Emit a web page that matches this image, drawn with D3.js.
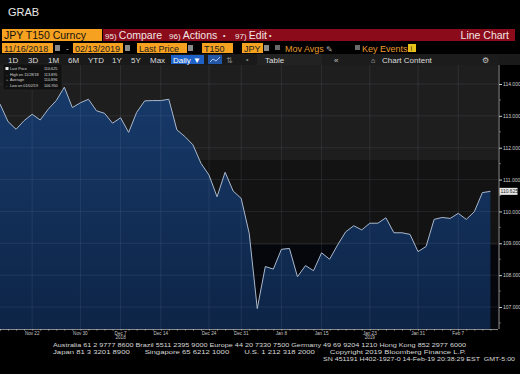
<!DOCTYPE html>
<html><head><meta charset="utf-8">
<script src="https://cdn.jsdelivr.net/npm/d3@7/dist/d3.min.js"></script>
<style>
html,body{margin:0;padding:0;background:#000;}
svg{display:block;}
text{font-family:"Liberation Sans","DejaVu Sans",sans-serif;}
</style></head>
<body>
<svg id="c" width="520" height="374"></svg>
<script>
// ---- data ----
const dates = ["2018-11-16","2018-11-19","2018-11-20","2018-11-21","2018-11-22","2018-11-23","2018-11-26","2018-11-27","2018-11-28","2018-11-29","2018-11-30",
"2018-12-03","2018-12-04","2018-12-05","2018-12-06","2018-12-07","2018-12-10","2018-12-11","2018-12-12","2018-12-13","2018-12-14",
"2018-12-17","2018-12-18","2018-12-19","2018-12-20","2018-12-21","2018-12-24","2018-12-26","2018-12-27","2018-12-28","2018-12-31",
"2019-01-02","2019-01-03","2019-01-04","2019-01-07","2019-01-08","2019-01-09","2019-01-10","2019-01-11","2019-01-14","2019-01-15",
"2019-01-16","2019-01-17","2019-01-18","2019-01-21","2019-01-22","2019-01-23","2019-01-24","2019-01-25","2019-01-28","2019-01-29",
"2019-01-30","2019-01-31","2019-02-01","2019-02-04","2019-02-05","2019-02-06","2019-02-07","2019-02-08","2019-02-11","2019-02-12","2019-02-13"];
const prices = [113.37,112.82,112.58,112.85,113.05,112.87,113.21,113.48,113.90,113.26,
113.41,113.52,113.16,113.08,112.77,112.94,112.48,113.11,113.47,113.48,
113.48,113.52,112.56,112.35,112.09,111.51,111.14,110.46,111.23,110.64,
110.41,109.31,106.95,108.27,108.19,108.81,108.84,107.95,108.30,108.14,
108.70,108.50,108.95,109.36,109.55,109.42,109.63,109.63,109.80,109.33,
109.33,109.28,108.74,108.90,109.75,109.81,109.78,109.94,109.75,109.99,
110.59,110.63];
const yTicks = [107,108,109,110,111,112,113,114];
const xTickDates = ["2018-11-22","2018-11-30","2018-12-07","2018-12-14","2018-12-24","2018-12-31","2019-01-08","2019-01-15","2019-01-23","2019-01-31","2019-02-07"];
const xTickLabels = ["Nov 22","Nov 30","Dec 7","Dec 14","Dec 24","Dec 31","Jan 8","Jan 15","Jan 23","Jan 31","Feb 7"];
const yearLabels = [["2018-12-07","2018"],["2019-01-23","2019"]];
const legendRows = [["Last Price","110.625"],["High on 11/28/18","113.895"],["Average","110.896"],["Low on 01/02/19","106.950"]];
const lastLabel = "110.625";

// ---- layout ----
const svg = d3.select("#c");
const plotTop = 65, plotBottom = 329, plotRight = 498;
const x = d3.scalePoint().domain(dates).range([0, 490.4]);
const y = d3.scaleLinear().domain([107,114]).range([307,84]);

// header
svg.append("text").attr("x",8).attr("y",16).attr("fill","#e8e8e8").attr("font-size",11).text("GRAB");
svg.append("rect").attr("x",2).attr("y",29).attr("width",100).attr("height",12).attr("fill","#f6a11f");
svg.append("text").attr("x",4).attr("y",39).attr("fill","#111").attr("font-size",10.5).text("JPY T150 Curncy");
svg.append("rect").attr("x",103).attr("y",29).attr("width",412).attr("height",12).attr("fill","#8b0b1a");
const hdr = [[105,"95)","Compare"],[169,"96)","Actions"],[235,"97)","Edit"]];
hdr.forEach(h=>{
  const t = svg.append("text").attr("x",h[0]).attr("y",39).attr("fill","#f2e6e6").attr("font-size",10.5);
  t.append("tspan").attr("font-size",8).text(h[1]+" ");
  t.append("tspan").text(h[2]);
});
svg.append("text").attr("x",223).attr("y",38).attr("fill","#f2e6e6").attr("font-size",7).text("•");
svg.append("text").attr("x",269).attr("y",38).attr("fill","#f2e6e6").attr("font-size",7).text("•");
svg.append("text").attr("x",509).attr("y",39).attr("fill","#f2e6e6").attr("font-size",10.5).attr("text-anchor","end").text("Line Chart");

// row 2
const fields = [[2,51,"11/16/2018"],[73,50,"02/13/2019"],[137,50,"Last Price"],[202,31,"T150"],[242,21,"JPY"]];
fields.forEach(f=>{
  svg.append("rect").attr("x",f[0]).attr("y",43).attr("width",f[1]).attr("height",10).attr("fill","#f6a11f");
  svg.append("text").attr("x",f[0]+2).attr("y",51.5).attr("fill","#222").attr("font-size",9).text(f[2]);
});
[[55,45],[125,45],[188,45],[264,45]].forEach(p=>svg.append("rect").attr("x",p[0]).attr("y",p[1]).attr("width",5).attr("height",6).attr("fill","#8a8a8a"));
svg.append("text").attr("x",66).attr("y",51).attr("fill","#ddd").attr("font-size",8).text("-");
svg.append("rect").attr("x",275).attr("y",45).attr("width",5).attr("height",5).attr("fill","#6a6a6a");
svg.append("text").attr("x",285).attr("y",51.5).attr("fill","#e89a2c").attr("font-size",9).text("Mov Avgs");
svg.append("text").attr("x",326).attr("y",51.5).attr("fill","#aaa").attr("font-size",8).text("✎");
svg.append("rect").attr("x",355).attr("y",45).attr("width",5).attr("height",5).attr("fill","#6a6a6a");
svg.append("text").attr("x",362).attr("y",51.5).attr("fill","#e89a2c").attr("font-size",9).text("Key Events");
svg.append("rect").attr("x",408).attr("y",44).attr("width",8).attr("height",8).attr("fill","#e8c21a");
svg.append("text").attr("x",410.5).attr("y",51).attr("fill","#222").attr("font-size",7).text("i");

// row 3
svg.append("rect").attr("x",0).attr("y",54).attr("width",520).attr("height",11).attr("fill","#1a1a1a");
svg.append("rect").attr("x",257).attr("y",54).attr("width",65).attr("height",11).attr("fill","#222");
svg.append("rect").attr("x",322).attr("y",54).attr("width",176).attr("height",11).attr("fill","#1c1c1c");
[["1D",8],["3D",28],["1M",48],["6M",68],["YTD",88],["1Y",112],["5Y",131],["Max",150]].forEach(b=>
  svg.append("text").attr("x",b[1]).attr("y",62.5).attr("fill","#ddd").attr("font-size",8).text(b[0]));
svg.append("rect").attr("x",171).attr("y",55).attr("width",33).attr("height",9).attr("fill","#1e62c8");
svg.append("text").attr("x",173).attr("y",62.5).attr("fill","#fff").attr("font-size",8).text("Daily ▼");
svg.append("rect").attr("x",208).attr("y",55).attr("width",14).attr("height",9).attr("fill","#2456a8");
svg.append("path").attr("d","M210,62 L213,59 L216,61 L220,57").attr("stroke","#cfe0ff").attr("fill","none").attr("stroke-width",0.8);
svg.append("text").attr("x",226).attr("y",62.5).attr("fill","#888").attr("font-size",8).text("⇅");
svg.append("text").attr("x",246).attr("y",62).attr("fill","#888").attr("font-size",7).text("•");
svg.append("text").attr("x",265).attr("y",62.5).attr("fill","#ddd").attr("font-size",8).text("Table");
svg.append("text").attr("x",334).attr("y",62.5).attr("fill","#ccc").attr("font-size",8).text("«");
svg.append("text").attr("x",371).attr("y",62.5).attr("fill","#ccc").attr("font-size",7).text("⌂");
svg.append("text").attr("x",382).attr("y",62.5).attr("fill","#ddd").attr("font-size",8).text("Chart Content");
svg.append("text").attr("x",482).attr("y",62.5).attr("fill","#ccc").attr("font-size",8).text("⚙");

// plot background bands
svg.append("rect").attr("x",0).attr("y",plotTop).attr("width",plotRight).attr("height",160-plotTop).attr("fill","#1e1e1e");
svg.append("rect").attr("x",0).attr("y",160).attr("width",plotRight).attr("height",85).attr("fill","#131313");
svg.append("rect").attr("x",0).attr("y",245).attr("width",plotRight).attr("height",plotBottom-245).attr("fill","#06070c");

// area
const defs = svg.append("defs");
const g = defs.append("linearGradient").attr("id","ag").attr("x1",0).attr("y1",0).attr("x2",0).attr("y2",1);
g.append("stop").attr("offset","0%").attr("stop-color","#173a6a");
g.append("stop").attr("offset","100%").attr("stop-color","#0d2446");
const pts = dates.map((d,i)=>({d, v:prices[i]}));
const area = d3.area().x(p=>x(p.d)).y0(plotBottom).y1(p=>y(p.v));
svg.append("path").datum(pts).attr("d",area).attr("fill","url(#ag)");

// grid
svg.append("g").selectAll("line").data(yTicks).join("line")
  .attr("x1",0).attr("x2",plotRight).attr("y1",d=>y(d)).attr("y2",d=>y(d))
  .attr("stroke","#9aa6b8").attr("stroke-opacity",0.13).attr("stroke-width",1);
svg.append("g").selectAll("line").data(xTickDates).join("line")
  .attr("x1",d=>x(d)).attr("x2",d=>x(d)).attr("y1",plotTop).attr("y2",plotBottom)
  .attr("stroke","#9aa6b8").attr("stroke-opacity",0.13).attr("stroke-width",1);

// line
const line = d3.line().x(p=>x(p.d)).y(p=>y(p.v));
svg.append("path").datum(pts).attr("d",line).attr("fill","none").attr("stroke","#aab8cc").attr("stroke-width",1);

// y axis
const yAxis = d3.axisRight(y).tickValues(yTicks).tickFormat(d3.format(".3f")).tickSize(3).tickPadding(1);
const ya = svg.append("g").attr("transform",`translate(${plotRight+1},0)`).call(yAxis);
ya.select(".domain").remove();
ya.selectAll("text").attr("fill","#d0d0d0").attr("font-size",5).attr("font-family","Liberation Sans,sans-serif");
ya.selectAll("line").attr("stroke","#ccc");
svg.append("line").attr("x1",plotRight+1).attr("x2",plotRight+1).attr("y1",plotTop).attr("y2",plotBottom).attr("stroke","#bbb").attr("stroke-width",0.8);
const minor = d3.range(0,15).map(i=>106.5+i*0.5).filter(v=>v%1!==0 && y(v)>plotTop && y(v)<plotBottom);
svg.append("g").selectAll("line").data(minor).join("line")
  .attr("x1",plotRight+1).attr("x2",plotRight+3).attr("y1",d=>y(d)).attr("y2",d=>y(d)).attr("stroke","#999").attr("stroke-width",0.6);
// last price label
const ly = y(prices[prices.length-1]);
svg.append("rect").attr("x",plotRight+1.5).attr("y",ly-3.5).attr("width",18).attr("height",7).attr("fill","#e8e8e8");
svg.append("text").attr("x",plotRight+2.5).attr("y",ly+2).attr("fill","#222").attr("font-size",5).text(lastLabel);

// x axis
svg.append("line").attr("x1",0).attr("x2",plotRight).attr("y1",plotBottom+0.5).attr("y2",plotBottom+0.5).attr("stroke","#aaa").attr("stroke-width",0.8);
const xAxis = d3.axisBottom(x).tickValues(dates).tickFormat("").tickSize(1.5);
const xa = svg.append("g").attr("transform",`translate(0,${plotBottom})`).call(xAxis);
xa.select(".domain").remove();
xa.selectAll("line").attr("stroke","#aaa");
svg.append("g").selectAll("text").data(xTickDates).join("text")
  .attr("x",d=>x(d)).attr("y",plotBottom+5.5).attr("text-anchor","middle")
  .attr("fill","#c8c8c8").attr("font-size",4.6).text((d,i)=>xTickLabels[i]);
svg.append("g").selectAll("text").data(yearLabels).join("text")
  .attr("x",d=>x(d[0])).attr("y",plotBottom+10).attr("text-anchor","middle")
  .attr("fill","#c8c8c8").attr("font-size",4.6).text(d=>d[1]);

// legend
svg.append("rect").attr("x",3).attr("y",64).attr("width",59).attr("height",26).attr("fill","#111").attr("stroke","#2e2e2e").attr("stroke-width",0.5);
legendRows.forEach((r,i)=>{
  const yy = 70 + i*5.7;
  if(i===0) svg.append("rect").attr("x",5.5).attr("y",yy-3).attr("width",3).attr("height",3).attr("fill","#eee");
  else svg.append("text").attr("x",6).attr("y",yy).attr("fill","#bbb").attr("font-size",4).text(i===2?"+":"-");
  svg.append("text").attr("x",10).attr("y",yy).attr("fill","#d8d8d8").attr("font-size",3.8).text(r[0]);
  svg.append("text").attr("x",44).attr("y",yy).attr("fill","#d8d8d8").attr("font-size",3.8).text(r[1]);
});

// footer
const foot = [
 [53,347,413,"Australia 61 2 9777 8600 Brazil 5511 2395 9000 Europe 44 20 7330 7500 Germany 49 69 9204 1210 Hong Kong 852 2977 6000"],
 [53,354,413,"Japan 81 3 3201 8900       Singapore 65 6212 1000       U.S. 1 212 318 2000       Copyright 2019 Bloomberg Finance L.P."],
 [323,361,192,"SN 451191 H402-1927-0 14-Feb-19 20:38:29 EST  GMT-5:00"]];
foot.forEach(f=>svg.append("text").attr("x",f[0]).attr("y",f[1]).attr("fill","#d8d8d8")
  .attr("font-family","DejaVu Sans Mono,monospace").attr("font-size",6).attr("xml:space","preserve")
  .style("white-space","pre").attr("textLength",f[2]).attr("lengthAdjust","spacingAndGlyphs").text(f[3]));
</script>
</body></html>
